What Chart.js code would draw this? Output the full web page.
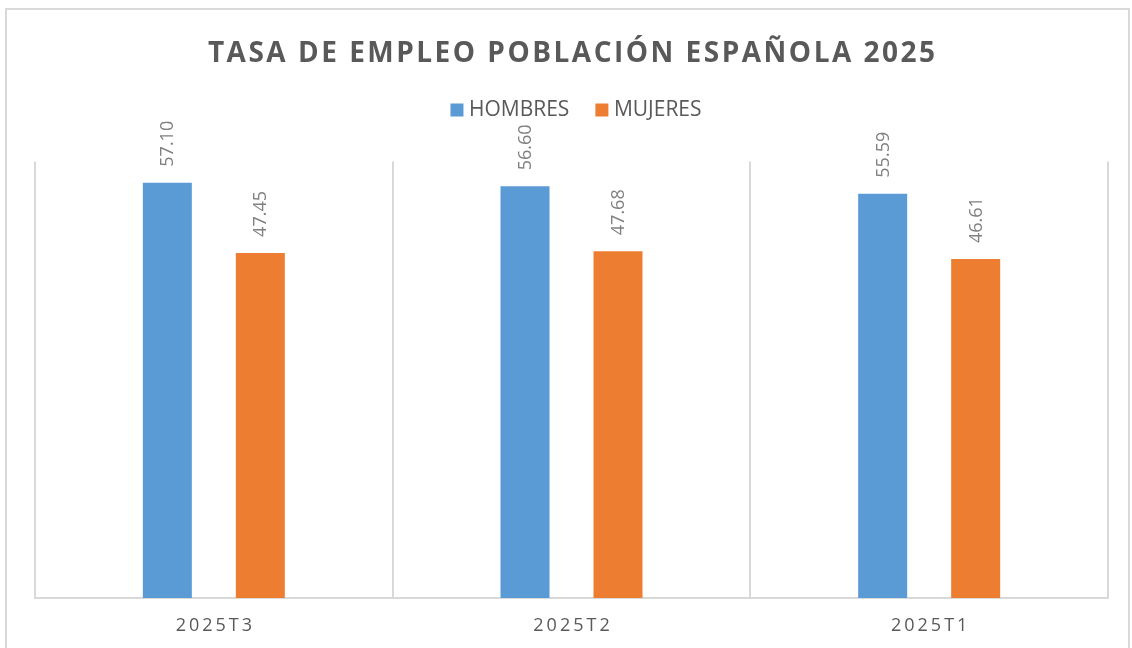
<!DOCTYPE html>
<html>
<head>
<meta charset="utf-8">
<script src="https://cdn.jsdelivr.net/npm/chart.js@4.4.1/dist/chart.umd.min.js"></script>
<style>
  html, body { margin: 0; padding: 0; background: #ffffff; }
  #wrap { position: relative; width: 1132px; height: 648px; }
  canvas { display: block; }
</style>
</head>
<body>
<div id="wrap"><canvas id="c" width="1132" height="648"></canvas></div>
<script>
const titleText = 'TASA DE EMPLEO POBLACIÓN ESPAÑOLA 2025';
const categories = ['2025T3', '2025T2', '2025T1'];
const seriesNames = ['HOMBRES', 'MUJERES'];
const hombres = [57.10, 56.60, 55.59];
const mujeres = [47.45, 47.68, 46.61];
const yMin = 0;
const yMax = 60;

const FONT = '"Open Sans", "Liberation Sans", sans-serif';
const TEXT = '#595959';
const LABEL = '#808080';
const GRID = '#d9d9d9';

// letter spacing for title and category labels, tighter legend text gap
const spacedPlugin = {
  id: 'spaced',
  beforeInit(chart) {
    const ctx = chart.ctx;
    const orig = ctx.fillText;
    ctx.fillText = function (t, x, y, mw) {
      let ls = 0;
      if (t === titleText) ls = 2.5;
      else if (categories.includes(t)) ls = 3;
      if (ls) {
        const prev = this.letterSpacing;
        this.letterSpacing = ls + 'px';
        const dx = this.textAlign === 'center' ? ls / 2 : 0;
        orig.call(this, t, x + dx, y);
        this.letterSpacing = prev;
      } else if (seriesNames.includes(t)) {
        orig.call(this, t, x - 5, y);
      } else {
        if (mw !== undefined) orig.call(this, t, x, y, mw); else orig.call(this, t, x, y);
      }
    };
  }
};

const borderPlugin = {
  id: 'outerBorder',
  beforeDraw(chart) {
    const ctx = chart.ctx;
    ctx.save();
    ctx.strokeStyle = '#d9d9d9';
    ctx.lineWidth = 2;
    ctx.strokeRect(6, 9, 1123, 645);
    ctx.restore();
  }
};

const valueLabels = {
  id: 'valueLabels',
  afterDatasetsDraw(chart) {
    const ctx = chart.ctx;
    ctx.save();
    ctx.font = '18px ' + FONT;
    ctx.fillStyle = LABEL;
    ctx.textAlign = 'left';
    ctx.textBaseline = 'middle';
    chart.data.datasets.forEach((ds, di) => {
      const meta = chart.getDatasetMeta(di);
      meta.data.forEach((bar, i) => {
        ctx.save();
        ctx.translate(bar.x + 1, bar.y - 16);
        ctx.rotate(-Math.PI / 2);
        ctx.fillText(ds.data[i].toFixed(2), 0, 0);
        ctx.restore();
      });
    });
    ctx.restore();
  }
};

const legendSpace = {
  id: 'legendSpace',
  beforeInit(chart) {
    const origFit = chart.legend.fit;
    chart.legend.fit = function () {
      origFit.call(this);
      this.height += 31;
    };
  },
  afterLayout(chart) {
    chart.legend.left += 7;
    chart.legend.right += 7;
  }
};

new Chart(document.getElementById('c'), {
  type: 'bar',
  data: {
    labels: categories,
    datasets: [
      { label: seriesNames[0], data: hombres, backgroundColor: '#5B9BD5', borderWidth: 0 },
      { label: seriesNames[1], data: mujeres, backgroundColor: '#ED7D31', borderWidth: 0 }
    ]
  },
  plugins: [spacedPlugin, borderPlugin, valueLabels, legendSpace],
  options: {
    responsive: false,
    animation: false,
    devicePixelRatio: 1,
    categoryPercentage: 0.52,
    barPercentage: 0.527,
    layout: { padding: { left: 35, right: 24, top: 0, bottom: 12 } },
    plugins: {
      title: {
        display: true,
        text: titleText,
        color: TEXT,
        font: { family: FONT, size: 28, weight: 'bold' },
        padding: { top: 37, bottom: 8 }
      },
      legend: {
        display: true,
        position: 'top',
        labels: {
          color: TEXT,
          font: { family: FONT, size: 21 },
          boxWidth: 13,
          boxHeight: 13,
          padding: 21
        }
      },
      tooltip: { enabled: false }
    },
    scales: {
      x: {
        grid: { offset: true, color: GRID, lineWidth: 2, drawTicks: false },
        border: { color: GRID, width: 2 },
        ticks: { color: TEXT, font: { family: FONT, size: 18 }, padding: 17 },
        afterFit(scale) { scale.height = 38; }
      },
      y: {
        display: false,
        min: yMin,
        max: yMax
      }
    }
  }
});
</script>
</body>
</html>
